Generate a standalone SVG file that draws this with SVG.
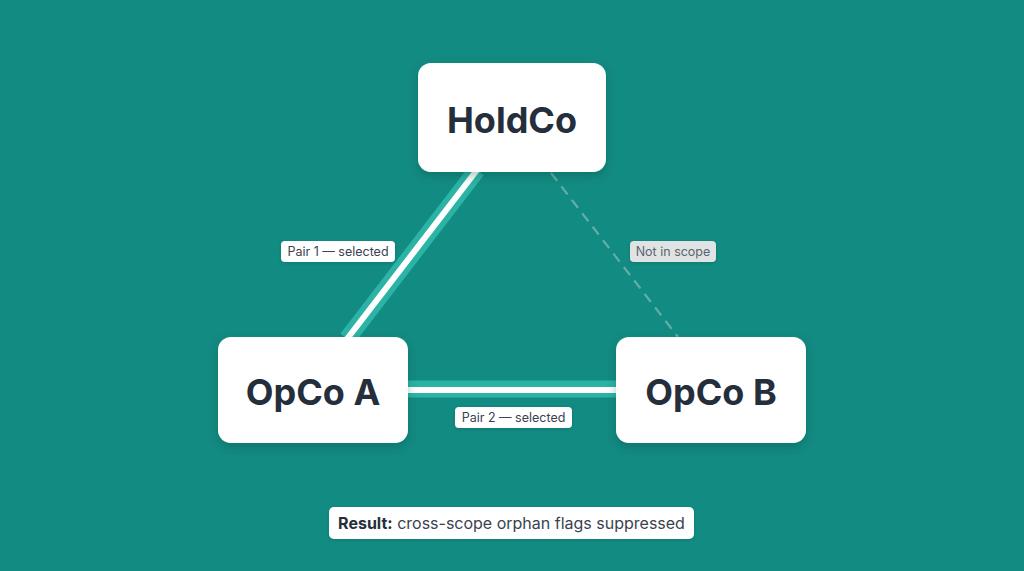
<svg xmlns="http://www.w3.org/2000/svg" width="1024" height="571" viewBox="0 0 1024 571">
<defs>
<filter id="sh" x="-20%" y="-20%" width="140%" height="150%"><feDropShadow dx="0" dy="4" stdDeviation="5" flood-color="#063f3a" flood-opacity="0.3"/></filter>
<filter id="sh2" x="-20%" y="-40%" width="140%" height="200%"><feDropShadow dx="0" dy="1" stdDeviation="1.5" flood-color="#063f3a" flood-opacity="0.25"/></filter>
<style>
.node{fill:#ffffff;filter:url(#sh)}
.nt{font-family:Inter,"Liberation Sans",sans-serif;font-weight:700;font-size:36px;fill:#252e3b;text-anchor:middle}
.band{stroke:#2bb3a5;stroke-width:17;fill:none}
.core{stroke:#ffffff;stroke-width:6;fill:none}
.lbl{fill:#ffffff;filter:url(#sh2)}
.lt{font-family:Inter,"Liberation Sans",sans-serif;font-size:12.5px;fill:#3a4250;text-anchor:middle}
</style>
</defs>
<rect width="1024" height="571" fill="#128b82"/>
<g id="connectors">
<line class="band" x1="477" y1="170" x2="347" y2="339"/>
<line class="core" x1="477" y1="170" x2="347" y2="339"/>
<line class="band" x1="406" y1="389" x2="618" y2="389"/>
<line class="core" x1="406" y1="390" x2="618" y2="390"/>
<line x1="551" y1="173" x2="678" y2="337" stroke="#72b5ae" stroke-width="2.2" stroke-dasharray="10 7" opacity="0.85"/>
<g id="label-pair1"><rect class="lbl" x="281" y="241" width="114" height="21" rx="4"/><text class="lt" x="338" y="256">Pair 1 — selected</text></g>
<g id="label-scope"><rect x="630" y="241" width="86" height="21" rx="4" fill="#dfe3e3" filter="url(#sh2)"/><text class="lt" x="673" y="256" style="fill:#5b6470">Not in scope</text></g>
<g id="label-pair2"><rect class="lbl" x="455" y="407" width="117" height="21" rx="4"/><text class="lt" x="513.5" y="422">Pair 2 — selected</text></g>
</g>
<g id="holdco"><rect class="node" x="418" y="63" width="188" height="109" rx="13"/><text class="nt" x="512" y="133">HoldCo</text></g>
<g id="opco-a"><rect class="node" x="218" y="337" width="190" height="106" rx="13"/><text class="nt" x="313" y="405">OpCo A</text></g>
<g id="opco-b"><rect class="node" x="616" y="337" width="190" height="106" rx="13"/><text class="nt" x="711" y="405">OpCo B</text></g>
<g id="result"><rect class="lbl" x="329" y="507" width="365" height="32" rx="5"/><text x="511.5" y="529" font-family="Inter, 'Liberation Sans', sans-serif" font-size="16" fill="#3a4250" text-anchor="middle"><tspan font-weight="700" fill="#252e3b">Result:</tspan> cross-scope orphan flags suppressed</text></g>
</svg>
